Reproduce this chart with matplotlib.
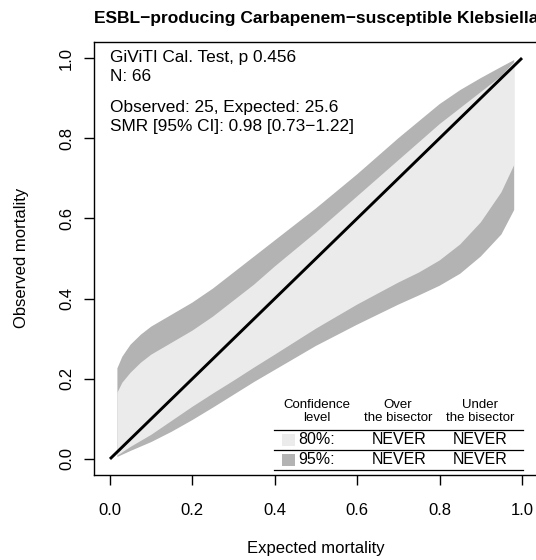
import matplotlib
matplotlib.use("Agg")
import matplotlib.pyplot as plt
from matplotlib.patches import Rectangle
from matplotlib.lines import Line2D

plt.rcParams['font.family'] = ['Liberation Sans', 'DejaVu Sans']

# calibration belt
exp_up = [0.018, 0.03, 0.05, 0.075, 0.1, 0.15, 0.2, 0.25, 0.3, 0.35, 0.4, 0.5,
          0.6, 0.7, 0.8, 0.85, 0.9, 0.95, 0.981]
upper95 = [0.226, 0.255, 0.285, 0.31, 0.33, 0.36, 0.39, 0.425, 0.465, 0.505, 0.545, 0.625,
           0.71, 0.8, 0.885, 0.92, 0.95, 0.978, 0.995]
upper80 = [0.165, 0.19, 0.215, 0.24, 0.26, 0.29, 0.32, 0.355, 0.395, 0.435, 0.48, 0.565,
           0.655, 0.745, 0.835, 0.875, 0.915, 0.955, 0.99]

exp_lo = [0.018, 0.05, 0.1, 0.15, 0.2, 0.25, 0.3, 0.35, 0.4, 0.5, 0.6, 0.7,
          0.75, 0.8, 0.85, 0.9, 0.95, 0.981]
lower80 = [0.008, 0.03, 0.06, 0.095, 0.13, 0.163, 0.195, 0.228, 0.26, 0.325, 0.385, 0.44,
           0.465, 0.495, 0.535, 0.59, 0.665, 0.733]
lower95 = [0.005, 0.02, 0.042, 0.068, 0.097, 0.128, 0.16, 0.192, 0.222, 0.282, 0.335, 0.385,
           0.408, 0.432, 0.462, 0.505, 0.56, 0.621]

ticks = [0.0, 0.2, 0.4, 0.6, 0.8, 1.0]
stats_lines = ["GiViTI Cal. Test, p 0.456", "N: 66",
               "Observed: 25, Expected: 25.6", "SMR [95% CI]: 0.98 [0.73\u22121.22]"]
levels = ["80%:", "95%:"]
over = ["NEVER", "NEVER"]
under = ["NEVER", "NEVER"]
col80 = "#ebebeb"
col95 = "#b3b3b3"

W, H = 536, 560
fig = plt.figure(figsize=(W / 100, H / 100), dpi=100)


def fx(px):
    return px / W


def fy(py):
    return 1 - py / H


def belt(ax, lo, up, color):
    # closed polygon: upper edge left->right, lower edge right->left
    xs = exp_up + exp_lo[::-1]
    ys = up + lo[::-1]
    ax.fill(xs, ys, color=color, lw=0)


ax = fig.add_axes([fx(93.5), fy(475), (538.5 - 93.5) / W, (475 - 42) / H])
belt(ax, lower95, upper95, col95)
belt(ax, lower80, upper80, col80)
ax.plot([0, 1], [0, 1], color='black', lw=2.1, solid_capstyle='butt')

ax.set_xlim(-0.04, 1.04)
ax.set_ylim(-0.04, 1.04)
ax.set_xticks(ticks)
ax.set_yticks(ticks)
ax.set_xticklabels([f"{t:.1f}" for t in ticks])
ax.set_yticklabels([f"{t:.1f}" for t in ticks], rotation=90, va='center')
ax.tick_params(axis='both', direction='out', length=7, width=1, labelsize=12)
ax.tick_params(axis='x', pad=13)
ax.tick_params(axis='y', pad=7)
for s in ax.spines.values():
    s.set_linewidth(1.0)

fig.text(fx(316), fy(18), "ESBL\u2212producing Carbapenem\u2212susceptible Klebsiella",
         ha='center', va='center', fontsize=12.5, fontweight='bold')
fig.text(fx(316), fy(548), "Expected mortality", ha='center', va='center', fontsize=12)
fig.text(fx(22), fy(258), "Observed mortality", ha='center', va='center',
         rotation=90, fontsize=12)

# stats block
for txt, base in zip(stats_lines, [62, 81, 112, 131]):
    fig.text(fx(110), fy(base), txt, ha='left', va='baseline', fontsize=12.4)

# legend table
fig.text(fx(317), fy(405), "Confidence", ha='center', va='center', fontsize=9.5)
fig.text(fx(317), fy(418), "level", ha='center', va='center', fontsize=9.5)
fig.text(fx(398), fy(405), "Over", ha='center', va='center', fontsize=9.5)
fig.text(fx(398), fy(418), "the bisector", ha='center', va='center', fontsize=9.5)
fig.text(fx(480), fy(405), "Under", ha='center', va='center', fontsize=9.5)
fig.text(fx(480), fy(418), "the bisector", ha='center', va='center', fontsize=9.5)

for py in [430, 450, 470]:
    fig.add_artist(Line2D([fx(274), fx(523)], [fy(py), fy(py)], color='black', lw=0.9))

for i, (lab, o, u, c) in enumerate(zip(levels, over, under, [col80, col95])):
    yc = 440 + 20 * i
    fig.add_artist(Rectangle((fx(282), fy(yc + 6)), 13 / W, 12 / H, color=c, lw=0))
    fig.text(fx(298), fy(yc), lab, ha='left', va='center', fontsize=11.5)
    fig.text(fx(399), fy(yc), o, ha='center', va='center', fontsize=11.5)
    fig.text(fx(480), fy(yc), u, ha='center', va='center', fontsize=11.5)

fig.savefig("out.png", dpi=100)
